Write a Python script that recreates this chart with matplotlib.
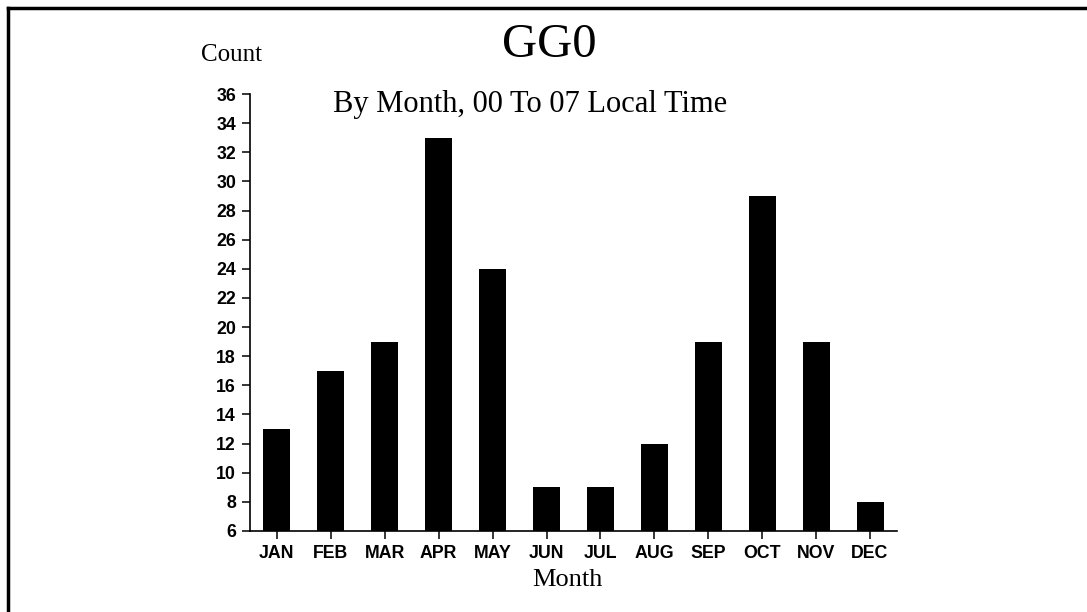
import matplotlib.pyplot as plt
from matplotlib.lines import Line2D

months = ["JAN", "FEB", "MAR", "APR", "MAY", "JUN",
          "JUL", "AUG", "SEP", "OCT", "NOV", "DEC"]
counts = [13, 17, 19, 33, 24, 9, 9, 12, 19, 29, 19, 8]
y_ticks = list(range(6, 37, 2))

serif = "Liberation Serif"
sans = "Liberation Sans"

fig = plt.figure(figsize=(10.87, 6.12), dpi=100)
ax = fig.add_axes([0.230, 0.1324, 0.5952, 0.714])

x = range(len(months))
ax.bar(x, counts, width=0.5, color="black", bottom=0)

ax.set_xlim(-0.5, 11.5)
ax.set_ylim(6, 36)
ax.set_yticks(y_ticks)
ax.set_xticks(list(x))
ax.set_xticklabels(months)

for s in ["top", "right"]:
    ax.spines[s].set_visible(False)
for s in ["left", "bottom"]:
    ax.spines[s].set_linewidth(1.2)

ax.tick_params(axis="both", direction="out", length=6, width=1.1, pad=4)
for lab in ax.get_xticklabels() + ax.get_yticklabels():
    lab.set_fontfamily(sans)
    lab.set_fontweight("bold")
    lab.set_fontsize(12.8)

ax.set_xlabel("Month", fontfamily=serif, fontsize=19)
ax.xaxis.set_label_coords(0.491, -0.086)

# titles and y label placed in figure coordinates
fig.text(0.505, 0.926, "GG0", fontfamily=serif, fontsize=35,
         ha="center", va="center")
fig.text(0.4876, 0.83, "By Month, 00 To 07 Local Time", fontfamily=serif,
         fontsize=22, ha="center", va="center")
fig.text(0.213, 0.91, "Count", fontfamily=serif, fontsize=18,
         ha="center", va="center")

# page border on left and top
fig.add_artist(Line2D([8 / 1087, 8 / 1087], [0, 1 - 8 / 612],
                      transform=fig.transFigure, color="black", lw=2.5))
fig.add_artist(Line2D([8 / 1087, 1], [1 - 8 / 612, 1 - 8 / 612],
                      transform=fig.transFigure, color="black", lw=2.5))

fig.savefig("out.png", dpi=100)
